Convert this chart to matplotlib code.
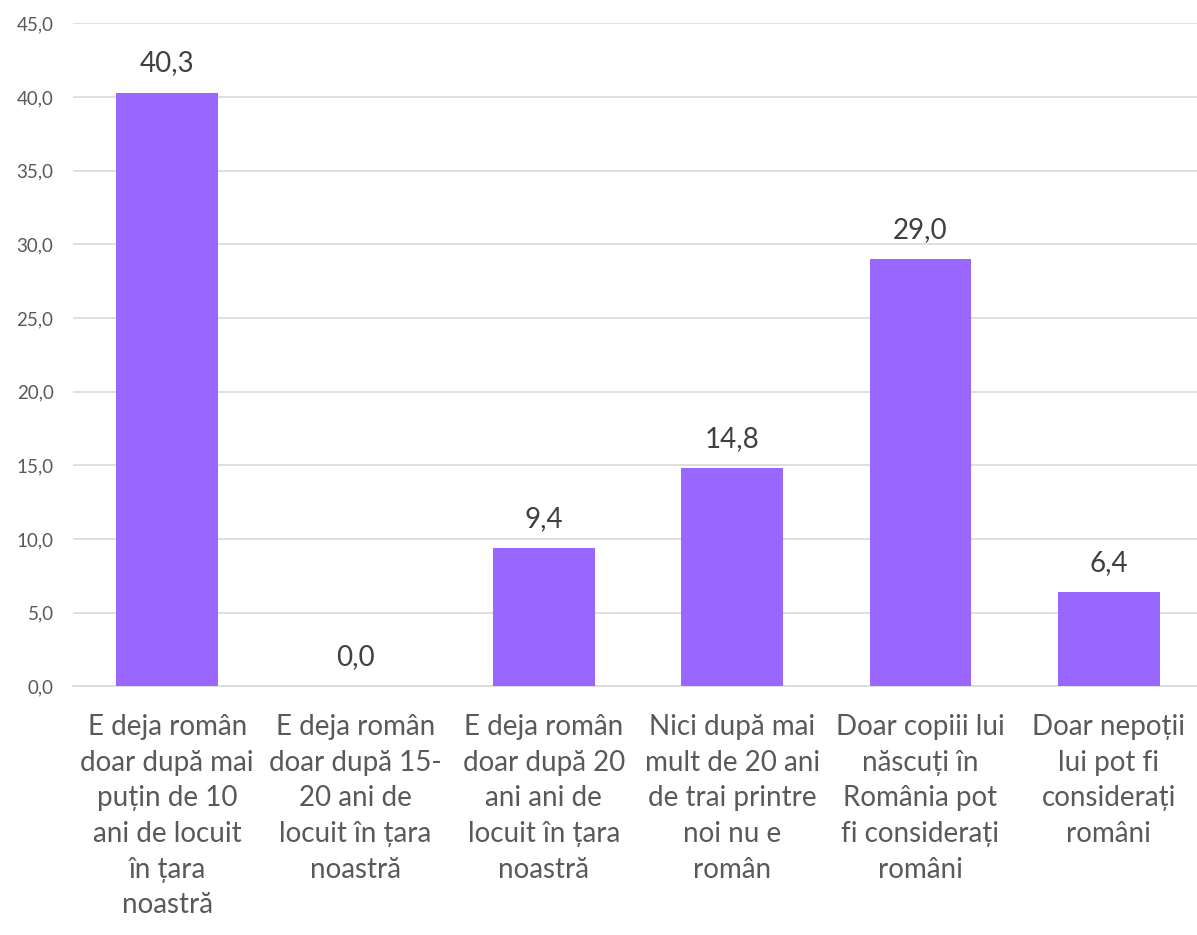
import matplotlib
matplotlib.use("Agg")
import matplotlib.pyplot as plt
from matplotlib.ticker import FuncFormatter, MultipleLocator

plt.rcParams["font.family"] = ["Lato", "DejaVu Sans"]

categories = [
    "E deja român\ndoar după mai\npuțin de 10\nani de locuit\nîn țara\nnoastră",
    "E deja român\ndoar după 15-\n20 ani de\nlocuit în țara\nnoastră",
    "E deja român\ndoar după 20\nani ani de\nlocuit în țara\nnoastră",
    "Nici după mai\nmult de 20 ani\nde trai printre\nnoi nu e\nromân",
    "Doar copiii lui\nnăscuți în\nRomânia pot\nfi considerați\nromâni",
    "Doar nepoții\nlui pot fi\nconsiderați\nromâni",
]
values = [40.3, 0.0, 9.4, 14.8, 29.0, 6.4]

BAR_COLOR = "#9966FF"
GRID_COLOR = "#D9D9D9"


def comma(v, _pos=None):
    return f"{v:.1f}".replace(".", ",")


fig = plt.figure(figsize=(11.97, 9.35), dpi=100)
ax = fig.add_axes([0.061, 0.266, 0.944, 0.709])

x = range(len(values))
ax.bar(x, values, width=0.54, color=BAR_COLOR, zorder=3)

for xi, v in zip(x, values):
    ax.text(xi, v + 1.1, comma(v), ha="center", va="bottom",
            fontsize=20, color="#404040")

ax.set_ylim(0, 45)
ax.set_xlim(-0.5, len(values) - 0.5)
ax.yaxis.set_major_locator(MultipleLocator(5))
ax.yaxis.set_major_formatter(FuncFormatter(comma))
ax.grid(axis="y", color=GRID_COLOR, linewidth=1.2, zorder=0)

ax.set_xticks(list(x))
ax.set_xticklabels(categories, fontsize=20, color="#595959", linespacing=1.46)
ax.tick_params(axis="x", length=0, pad=20)
ax.tick_params(axis="y", length=0, labelsize=13.5, labelcolor="#595959", pad=14)

for s in ["top", "right", "left"]:
    ax.spines[s].set_visible(False)
ax.spines["bottom"].set_color(GRID_COLOR)
ax.spines["bottom"].set_linewidth(1.2)

fig.savefig("out.png", dpi=100)
